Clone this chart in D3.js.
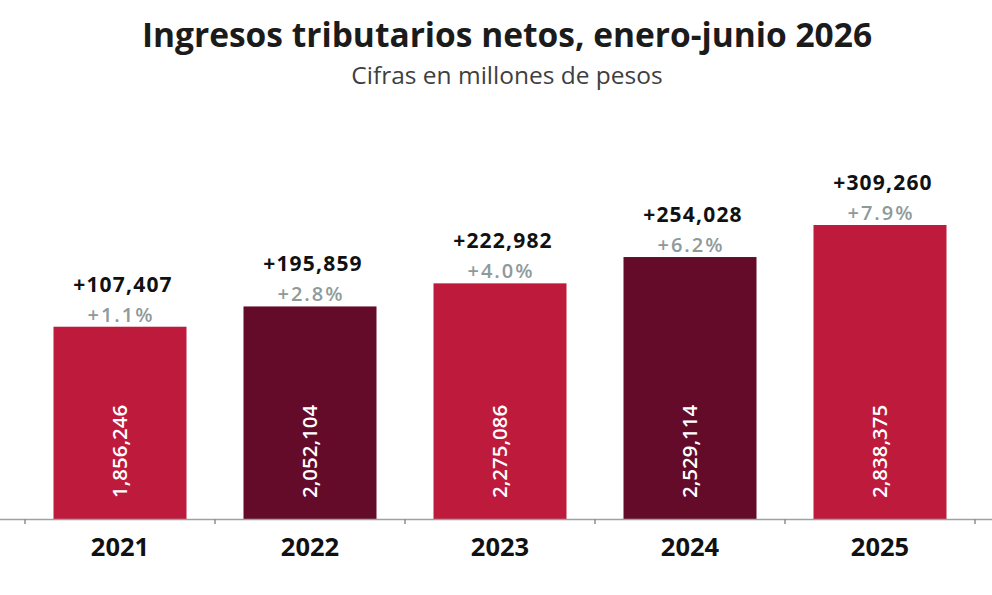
<!DOCTYPE html>
<html>
<head>
<meta charset="utf-8">
<script src="https://cdn.jsdelivr.net/npm/d3@7"></script>
<style>
  html, body { margin: 0; padding: 0; background: #ffffff; }
  svg { display: block; font-family: "Open Sans", "Noto Sans", sans-serif; }
</style>
</head>
<body>
<svg id="chart" width="992" height="595"></svg>
<script>
// ---- data ----
const axisYears = ["2020", "2021", "2022", "2023", "2024", "2025", "2026"];
const years = ["2021", "2022", "2023", "2024", "2025"];
const values = [1856246, 2052104, 2275086, 2529114, 2838375];
const changes = ["+107,407", "+195,859", "+222,982", "+254,028", "+309,260"];
const pcts = ["+1.1%", "+2.8%", "+4.0%", "+6.2%", "+7.9%"];
const valueLabels = ["1,856,246", "2,052,104", "2,275,086", "2,529,114", "2,838,375"];
const title = "Ingresos tributarios netos, enero-junio 2026";
const subtitle = "Cifras en millones de pesos";

const colors = ["#BE1A3C", "#650B2A"];

const svg = d3.select("#chart");
const W = 992, H = 595;
const baseY = 519;

const x = d3.scaleBand()
  .domain(axisYears)
  .range([-165, 1165])
  .paddingInner(0.3)
  .paddingOuter(0.15);

const y = d3.scaleLinear()
  .domain([0, 2838375])
  .range([baseY, 225]);

const data = years.map((yr, i) => ({
  year: yr, value: values[i], change: changes[i], pct: pcts[i], label: valueLabels[i], idx: i
}));

// title
svg.append("text")
  .attr("x", 507).attr("y", 47)
  .attr("text-anchor", "middle")
  .attr("font-size", 33.5).attr("font-weight", 700)
  .attr("fill", "#1b1b1b")
  .text(title);

svg.append("text")
  .attr("x", 507).attr("y", 84)
  .attr("text-anchor", "middle")
  .attr("font-size", 24.5)
  .attr("fill", "#3f3f3f")
  .text(subtitle);

// bars
const g = svg.append("g");
g.selectAll("rect.bar").data(data).enter().append("rect")
  .attr("class", "bar")
  .attr("x", d => x(d.year))
  .attr("width", x.bandwidth())
  .attr("y", d => y(d.value))
  .attr("height", d => baseY - y(d.value))
  .attr("fill", d => colors[d.idx % 2]);

// axis line + boundary ticks
const step = x.step();
const gap = step - x.bandwidth();
svg.append("line")
  .attr("x1", 0).attr("x2", W)
  .attr("y1", baseY + 0.5).attr("y2", baseY + 0.5)
  .attr("stroke", "#9aa3a3").attr("stroke-width", 1.5);
svg.selectAll("line.tick").data(axisYears).enter().append("line")
  .attr("class", "tick")
  .attr("x1", d => x(d) - gap / 2).attr("x2", d => x(d) - gap / 2)
  .attr("y1", baseY).attr("y2", baseY + 5)
  .attr("stroke", "#8a8f8f").attr("stroke-width", 1.5);

// year labels
svg.selectAll("text.year").data(years).enter().append("text")
  .attr("class", "year")
  .attr("x", d => x(d) + x.bandwidth() / 2)
  .attr("y", 556)
  .attr("text-anchor", "middle")
  .attr("font-size", 25.5).attr("font-weight", 700)
  .attr("fill", "#111")
  .text(d => d);

// change labels
g.selectAll("text.chg").data(data).enter().append("text")
  .attr("class", "chg")
  .attr("x", d => x(d.year) + x.bandwidth() / 2 + 3)
  .attr("y", d => y(d.value) - 35)
  .attr("text-anchor", "middle")
  .attr("font-size", 21).attr("font-weight", 700)
  .attr("letter-spacing", 1.2)
  .attr("fill", "#111")
  .text(d => d.change);

g.selectAll("text.pct").data(data).enter().append("text")
  .attr("class", "pct")
  .attr("x", d => x(d.year) + x.bandwidth() / 2 + 1)
  .attr("y", d => y(d.value) - 5)
  .attr("text-anchor", "middle")
  .attr("font-size", 20).attr("font-weight", 600)
  .attr("letter-spacing", 2)
  .attr("fill", "#8e9a9a")
  .text(d => d.pct);

// value labels inside bars (rotated)
g.selectAll("text.val").data(data).enter().append("text")
  .attr("class", "val")
  .attr("transform", d => `translate(${x(d.year) + x.bandwidth() / 2 + 7},${baseY - 21}) rotate(-90)`)
  .attr("text-anchor", "start")
  .attr("font-size", 20.5).attr("font-weight", 600)
  .attr("fill", "#ffffff")
  .text(d => d.label);
</script>
</body>
</html>
